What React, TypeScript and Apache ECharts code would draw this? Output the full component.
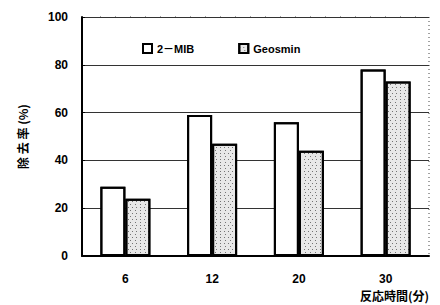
import React, { useEffect, useRef } from "react";
import * as echarts from "echarts";

const categories = ["6", "12", "20", "30"];
const mibValues = [29, 59, 56, 78];
const geosminValues = [24, 47, 44, 73];
const seriesNames = ["2－MIB", "Geosmin"];
const yTicks = [0, 20, 40, 60, 80, 100];

export default function App() {
  const ref = useRef<HTMLDivElement>(null);
  useEffect(() => {
    if (!ref.current) return;
    const chart = echarts.init(ref.current, undefined, { renderer: "svg" });
    chart.setOption({
      animation: false,
      backgroundColor: "#ffffff",
      aria: { enabled: true, label: { enabled: false }, decal: { show: true } },
      textStyle: { fontFamily: "'Liberation Sans', 'Noto Sans CJK JP', sans-serif" },
      grid: { left: 82, right: 11, top: 17, bottom: 49, show: false },
      legend: {
        data: seriesNames,
        top: 38,
        left: 137,
        itemGap: 44,
        itemWidth: 9,
        itemHeight: 9,
        icon: "rect",
        textStyle: { fontSize: 11, fontWeight: "bold", color: "#000" },
      },
      xAxis: {
        type: "category",
        data: categories,
        name: "反応時間(分)",
        nameLocation: "end",
        nameGap: 0,
        nameTextStyle: {
          fontSize: 12,
          fontWeight: "bold",
          color: "#000",
          fontFamily: "'Noto Sans CJK JP', sans-serif",
          align: "right",
          verticalAlign: "top",
          padding: [33, 0, 0, 0],
        },
        axisLine: { show: true, lineStyle: { color: "#000", width: 2 } },
        axisTick: { show: false },
        axisLabel: { fontSize: 12, fontWeight: "bold", color: "#000", margin: 17 },
        splitLine: { show: false },
      },
      yAxis: {
        type: "value",
        min: 0,
        max: 100,
        interval: 20,
        name: "除 去 率 (%)",
        nameLocation: "middle",
        nameGap: 54,
        nameRotate: 90,
        nameTextStyle: {
          fontSize: 12,
          fontWeight: "bold",
          color: "#000",
          fontFamily: "'Noto Sans CJK JP', sans-serif",
        },
        axisLine: { show: true, lineStyle: { color: "#000", width: 2 } },
        axisTick: { show: true, inside: true, length: 3, lineStyle: { color: "#000" } },
        axisLabel: {
          fontSize: 12,
          fontWeight: "bold",
          color: "#000",
          margin: 14,
          formatter: (v: number) => (yTicks.includes(v) ? String(v) : ""),
        },
        splitLine: {
          show: true,
          lineStyle: { color: "#333", width: 1 },
        },
      },
      graphic: [
        {
          type: "line",
          shape: { x1: 429, y1: 17, x2: 429, y2: 256 },
          style: { stroke: "#444", lineWidth: 1, lineDash: [1, 3] },
        },
        {
          type: "line",
          shape: { x1: 83, y1: 17, x2: 429, y2: 17 },
          style: { stroke: "#fff", lineWidth: 2 },
        },
        {
          type: "line",
          shape: { x1: 100, y1: 17, x2: 429, y2: 17 },
          style: { stroke: "#444", lineWidth: 1, lineDash: [1, 14] },
        },
      ],
      series: [
        {
          name: seriesNames[0],
          type: "bar",
          data: mibValues,
          barWidth: 25,
          barGap: "0%",
          itemStyle: {
            color: "#ffffff",
            borderColor: "#000",
            borderWidth: 2,
            decal: { symbol: "none" },
          },
        },
        {
          name: seriesNames[1],
          type: "bar",
          data: geosminValues,
          barWidth: 25,
          itemStyle: {
            color: "#e8e8e8",
            borderColor: "#000",
            borderWidth: 2,
            decal: {
              symbol: "rect",
              symbolSize: 1,
              color: "rgba(0,0,0,0.5)",
              dashArrayX: [[1, 3], [1, 4]],
              dashArrayY: [1, 2],
              rotation: 0,
            },
          },
        },
      ],
    });
    return () => chart.dispose();
  }, []);
  return <div ref={ref} style={{ width: 440, height: 305, position: "absolute", left: 0, top: 0 }} />;
}
